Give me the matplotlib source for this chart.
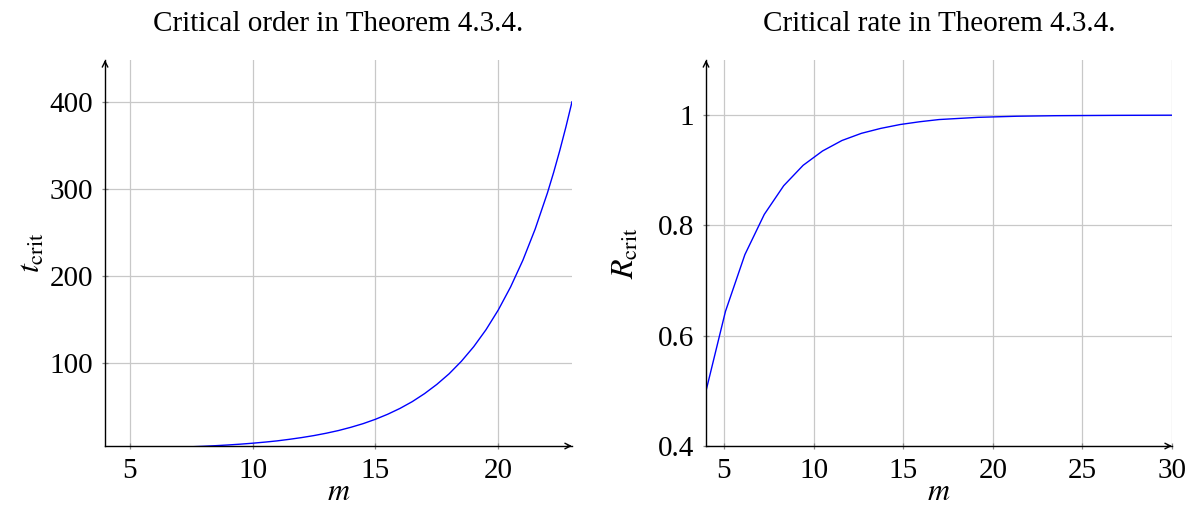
import matplotlib
matplotlib.use('Agg')
import matplotlib.pyplot as plt

plt.rcParams['font.family'] = ['Liberation Serif', 'DejaVu Serif']
plt.rcParams['mathtext.fontset'] = 'stix'

# critical order t_crit (m in half steps)
m_order = [4, 4.5, 5, 5.5, 6, 6.5, 7, 7.5, 8, 8.5, 9, 9.5, 10, 10.5, 11, 11.5,
           12, 12.5, 13, 13.5, 14, 14.5, 15, 15.5, 16, 16.5, 17, 17.5, 18, 18.5,
           19, 19.5, 20, 20.5, 21, 21.5, 22, 22.25, 22.5, 22.75, 23]
t_crit = [1.24, 1.45, 1.69, 1.96, 2.29, 2.66, 3.10, 3.61, 4.20, 4.89, 5.69, 6.62,
          7.71, 8.97, 10.4, 12.2, 14.2, 16.5, 19.2, 22.3, 26.0, 30.2, 35.2, 41.0,
          47.7, 55.5, 64.7, 75.3, 87.5, 101.9, 118.6, 138.1, 160.8, 187.2, 217.9,
          253.7, 295.3, 318.6, 343.8, 370.9, 400.0]

# critical rate R_crit (25 samples on [4, 30])
m_rate = [4.0, 5.083, 6.167, 7.25, 8.333, 9.417, 10.5, 11.583, 12.667, 13.75,
          14.833, 15.917, 17.0, 18.083, 19.167, 20.25, 21.333, 22.417, 23.5,
          24.583, 25.667, 26.75, 27.833, 28.917, 30.0]
r_crit = [0.500, 0.644, 0.747, 0.820, 0.872, 0.909, 0.935, 0.954, 0.967, 0.976,
          0.983, 0.988, 0.992, 0.994, 0.996, 0.997, 0.998, 0.9985, 0.999, 0.9992,
          0.9994, 0.9996, 0.9997, 0.9998, 0.9999]

xticks_left = [5, 10, 15, 20]
yticks_left = [100, 200, 300, 400]
xticks_right = [5, 10, 15, 20, 25, 30]
yticks_right = [0.4, 0.6, 0.8, 1.0]
yticklabels_right = ['0.4', '0.6', '0.8', '1']


def style_axes(ax):
    ax.spines['top'].set_visible(False)
    ax.spines['right'].set_visible(False)
    for s in ['left', 'bottom']:
        ax.spines[s].set_linewidth(1.0)
    ax.grid(True, color='#c8c8c8', linewidth=0.9)
    ax.set_axisbelow(True)
    ax.tick_params(direction='inout', length=5, width=0.9, color='#888888',
                   labelsize=21, pad=6)
    arrow = dict(arrowstyle='->', lw=1.0, color='black', shrinkA=0, shrinkB=0,
                 mutation_scale=10)
    ax.annotate('', xy=(1.0, 0), xytext=(0.99, 0), xycoords='axes fraction',
                arrowprops=arrow, annotation_clip=False)
    ax.annotate('', xy=(0, 1.0), xytext=(0, 0.99), xycoords='axes fraction',
                arrowprops=arrow, annotation_clip=False)


fig = plt.figure(figsize=(11.87, 5.05), dpi=100)
ax1 = fig.add_axes([0.0885, 0.1168, 0.3934, 0.7644])
ax2 = fig.add_axes([0.5948, 0.1168, 0.3926, 0.7644])

ax1.plot(m_order, t_crit, color='blue', linewidth=1.0)
ax1.set_xlim(4, 23)
ax1.set_ylim(4.5, 448)
ax1.set_xticks(xticks_left)
ax1.set_yticks(yticks_left)
ax1.set_xlabel('$m$', fontsize=22, labelpad=-4)
ax1.set_ylabel(r'$t_{\mathrm{crit}}$', fontsize=23, labelpad=2)
ax1.set_title('Critical order in Theorem 4.3.4.', fontsize=21, pad=21)
style_axes(ax1)

ax2.plot(m_rate, r_crit, color='blue', linewidth=1.0)
ax2.set_xlim(4, 30)
ax2.set_ylim(0.4, 1.1)
ax2.set_xticks(xticks_right)
ax2.set_yticks(yticks_right)
ax2.set_yticklabels(yticklabels_right)
ax2.set_xlabel('$m$', fontsize=22, labelpad=-4)
ax2.set_ylabel(r'$R_{\mathrm{crit}}$', fontsize=23, labelpad=12)
ax2.set_title('Critical rate in Theorem 4.3.4.', fontsize=21, pad=21)
style_axes(ax2)

fig.savefig('out.png', dpi=100)
plt.close(fig)
